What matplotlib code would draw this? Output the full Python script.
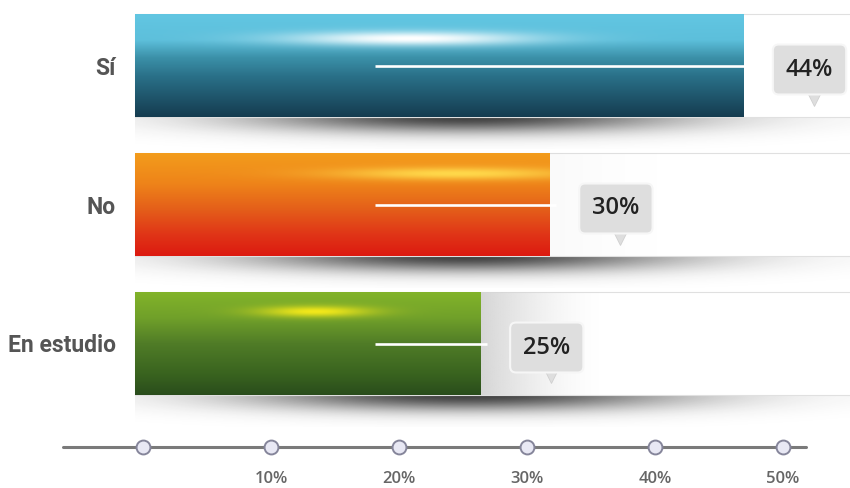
import numpy as np
import matplotlib
matplotlib.use("Agg")
import matplotlib.pyplot as plt
from matplotlib.colors import to_rgb
from matplotlib.patches import Rectangle

# data
categories = ["Sí", "No", "En estudio"]
values = [44, 30, 25]
value_labels = ["44%", "30%", "25%"]
axis_ticks = [0, 10, 20, 30, 40, 50]
axis_tick_labels = ["", "10%", "20%", "30%", "40%", "50%"]

# styles
bar_stops = [
    [(0, "#62c6e2"), (0.25, "#5cbfdb"), (0.42, "#3c91a9"), (0.6, "#2a7189"), (1.0, "#153c50")],
    [(0, "#f39c1c"), (0.3, "#ee8319"), (0.55, "#e45e1a"), (0.8, "#e03417"), (1.0, "#dc1a10")],
    [(0, "#82b32a"), (0.25, "#70a02a"), (0.5, "#507c27"), (0.8, "#39631f"), (1.0, "#2a4d1c")],
]
glares = [  # x px from bar start, y px from bar top, sigma x, sigma y, colour
    (275, 24, 85, 5, "#ffffff"),
    (320, 20, 85, 4.5, "#ffd84a"),
    (180, 19, 40, 4, "#f2e81a"),
]
track_shade = [0.0, 0.12, 1.0]

W, H = 850, 488
X0, PX = 135, 13.83          # bar start in px, px per percent
ROW0, PITCH, BAR_H = 65.5, 139, 103


def px2x(p):
    return (p - X0) / PX


def vgrad(stops, n):
    pos = [s[0] for s in stops]
    cols = np.array([to_rgb(s[1]) for s in stops])
    t = np.linspace(0, 1, n)
    return np.stack([np.interp(t, pos, cols[:, k]) for k in range(3)], axis=1)


fig = plt.figure(figsize=(W / 100, H / 100), dpi=100)
ax = fig.add_axes([0, 0, 1, 1])
ax.axis("off")

h = BAR_H / PITCH
for i, (cat, v, lab) in enumerate(zip(categories, values, value_labels)):
    top, bot = i - h / 2, i + h / 2

    # white track behind bar
    ax.add_patch(Rectangle((0, top), px2x(W + 20), h, fc="white", ec="#e0e0e0", lw=0.8, zorder=1))

    # grey fade right of bar
    if track_shade[i] > 0:
        n = 120
        sh = np.zeros((1, n, 4))
        sh[..., :3] = to_rgb("#d6d6d6")
        sh[0, :, 3] = track_shade[i] * np.linspace(1, 0, n) ** 1.5
        ax.imshow(sh, extent=(v, v + n / PX, bot, top), aspect="auto", zorder=1.5,
                  interpolation="bilinear")

    # shadow under bar
    sw, shh = W - X0, 32
    xs = np.arange(sw) + X0 + 0.5
    ys = np.arange(shh) + 0.5
    r2 = ((xs[None, :] - 465) / 150) ** 2 + (ys[:, None] / 11) ** 2
    shadow = np.zeros((shh, sw, 4))
    shadow[..., :3] = 0.12
    shadow[..., 3] = 0.85 * np.exp(-r2 / 2)
    ax.imshow(shadow, extent=(0, px2x(W), bot + shh / PITCH, bot), aspect="auto", zorder=0.5,
              interpolation="bilinear")

    # gradient bar
    wpx = int(round(v * PX))
    img = np.repeat(vgrad(bar_stops[i], BAR_H)[:, None, :], wpx, axis=1)
    gx, gy, sx, sy, gc = glares[i]
    g = np.exp(-((np.arange(wpx) - gx) / sx) ** 2 / 2)[None, :] * \
        np.exp(-((np.arange(BAR_H) - gy) / sy) ** 2 / 2)[:, None]
    g = np.clip(g, 0, 1)[..., None]
    img = img * (1 - g) + np.array(to_rgb(gc)) * g
    ax.imshow(img, extent=(0, v, bot, top), aspect="auto", zorder=2, interpolation="bilinear")

    # white line through bar
    ax.plot([px2x(375), v + 6 / PX], [i, i], color="white", lw=1.9, zorder=3,
            solid_capstyle="butt")

    # category label
    ax.text(px2x(116), i + 2.5 / PITCH, cat, ha="right", va="center", fontsize=16.5,
            fontweight="bold", color="#555555", family=["Roboto", "DejaVu Sans"], zorder=4)

    # callout
    cx = v + 66 / PX
    cy = i + 4 / PITCH
    ax.text(cx, cy, lab, ha="center", va="center", fontsize=17, fontweight="semibold",
            color="#222222", family=["Open Sans", "DejaVu Sans"], zorder=6,
            bbox=dict(boxstyle="round,pad=0.55,rounding_size=0.25", fc="#dedede",
                      ec="#f6f6f6", lw=1.5))
    ax.plot(cx + 4 / PX, cy + 30 / PITCH, marker="v", ms=8, color="#dedede",
            mec="#d0d0d0", mew=0.6, zorder=5)

ax.set_xlim(px2x(0), px2x(W))
ax.set_ylim((H - ROW0) / PITCH, -ROW0 / PITCH)

# bottom scale
ax2 = fig.add_axes([0, 0, 1, 1])
ax2.axis("off")
ax2.patch.set_alpha(0)
T0, TS = 143, 12.8
ax2.set_xlim(-T0 / TS, (W - T0) / TS)
ax2.set_ylim(H, 0)
ax2.plot([axis_ticks[0] - 80 / TS, axis_ticks[-1] + 23 / TS], [447, 447], color="#7a7a7a",
         lw=2.2, zorder=1, solid_capstyle="round")
ax2.scatter(axis_ticks, [447] * len(axis_ticks), s=100, fc="#e8e8f4", ec="#85859a",
            lw=1.4, zorder=2)
for t, lab in zip(axis_ticks, axis_tick_labels):
    ax2.text(t, 471, lab, ha="center", va="top", fontsize=12, fontweight="semibold",
             color="#666666", family=["Open Sans", "DejaVu Sans"])

fig.savefig("out.png", dpi=100)
